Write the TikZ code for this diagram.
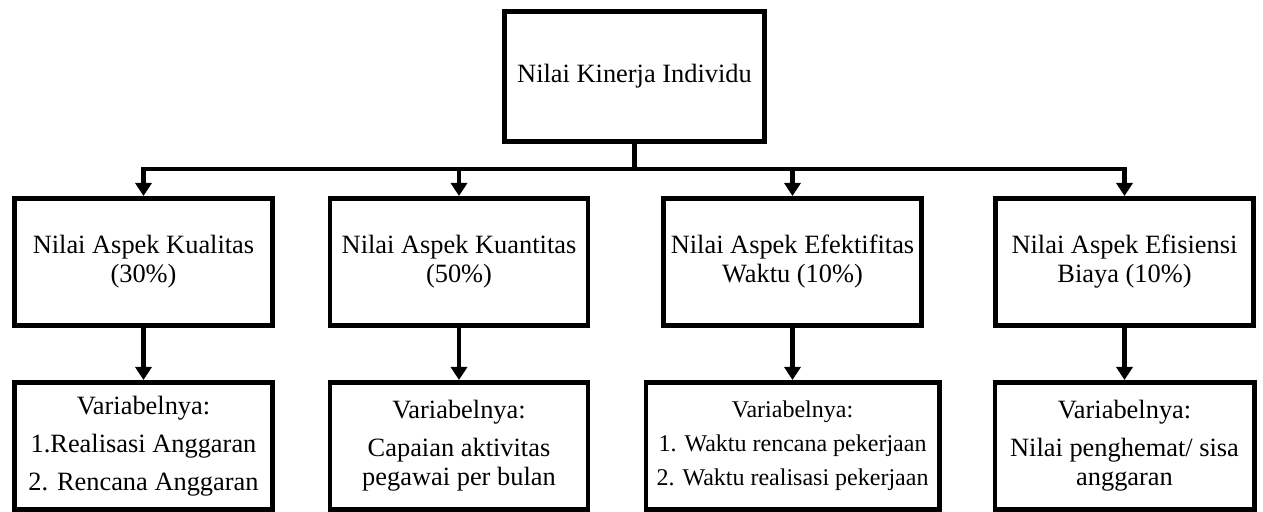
\documentclass[tikz,border=0pt]{standalone}
\usepackage{fontspec}
\setmainfont{Liberation Serif}
\usetikzlibrary{positioning,arrows.meta}

\begin{document}
\begin{tikzpicture}[
    x=0.5pt, y=-0.5pt,
    >={Triangle[length=6.5pt,width=8pt]},
    box/.style    = {draw, line width=2.4pt, minimum width=129pt,
                     minimum height=63.6pt, align=center, inner sep=2pt,
                     font=\fontsize{13.2}{14.5}\selectfont},
    topbox/.style = {box, minimum width=130pt, minimum height=65pt},
    link/.style   = {draw, line width=2.4pt, ->},
    every edge/.style = {link}
]
\useasboundingbox (0,0) rectangle (1263,512);

% =========================================================
% TOP
% =========================================================
\node[topbox] (nki) at (634.5,76.5) {Nilai Kinerja Individu};
\coordinate (bus) at (634.5,169);

% =========================================================
% ASPECTS
% =========================================================
\node[box] (kual) at (143.5,262) {Nilai Aspek Kualitas\\(30\%)};
\node[box] (kuan) at (459,262)   {Nilai Aspek Kuantitas\\(50\%)};
\node[box] (efek) at (792.5,262) {Nilai Aspek Efektifitas\\Waktu (10\%)};
\node[box] (efis) at (1124.5,262) {Nilai Aspek Efisiensi\\Biaya (10\%)};

% =========================================================
% VARIABLES
% =========================================================
\node[box, font=\fontsize{13.2}{19}\selectfont] (vkual) at (143.5,446)
  {Variabelnya:\\1.Realisasi Anggaran\\2. Rencana Anggaran};
\node[box] (vkuan) at (459,446)
  {Variabelnya:\\[4.5pt]Capaian aktivitas\\pegawai per bulan};
\node[box, minimum width=146.6pt, font=\fontsize{12}{17}\selectfont] (vefek) at (792.5,446)
  {Variabelnya:\\1. Waktu rencana pekerjaan\\2. Waktu realisasi pekerjaan};
\node[box, minimum width=129.6pt] (vefis) at (1124.5,446)
  {Variabelnya:\\[4.5pt]Nilai penghemat/ sisa\\anggaran};

% =========================================================
% ARROWS
% =========================================================
\draw[link] (nki.south) -- (bus) -| (kual.north);
\draw[link] (nki.south) -- (bus) -| (kuan.north);
\draw[link] (nki.south) -- (bus) -| (efek.north);
\draw[link] (nki.south) -- (bus) -| (efis.north);

\path
  (kual.south) edge (vkual.north)
  (kuan.south) edge (vkuan.north)
  (efek.south) edge (vefek.north)
  (efis.south) edge (vefis.north);

\end{tikzpicture}
\end{document}
